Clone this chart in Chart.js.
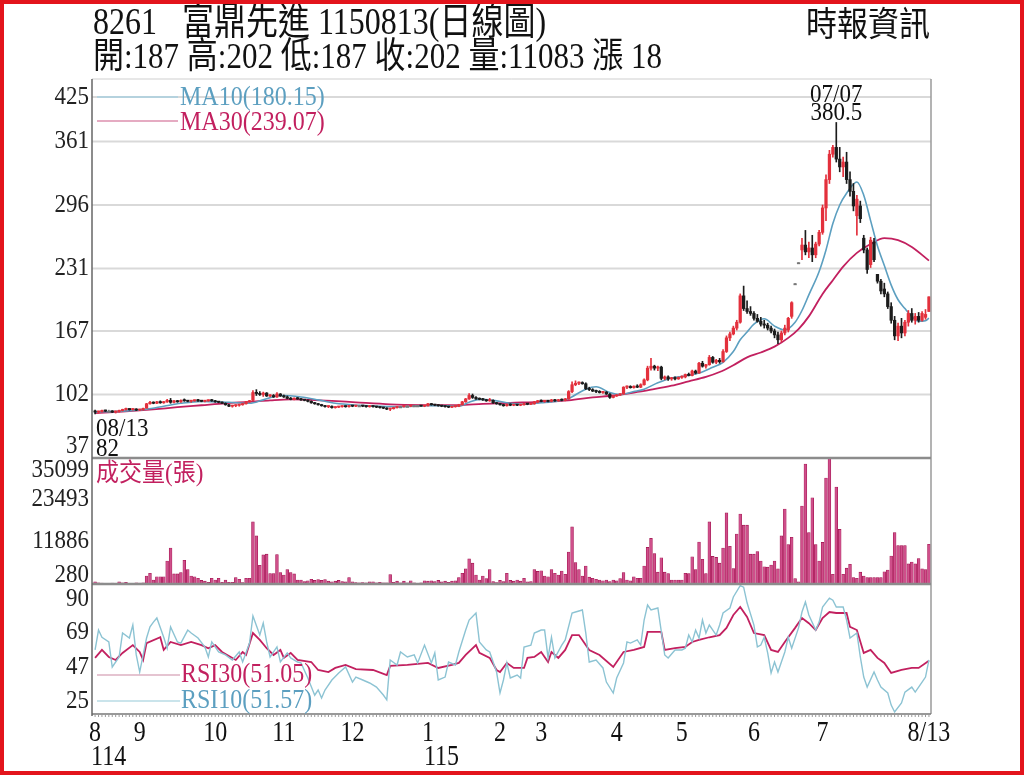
<!DOCTYPE html>
<html>
<head>
<meta charset="utf-8">
<script src="https://cdn.jsdelivr.net/npm/chart.js@4.4.1/dist/chart.umd.min.js"></script>
<style>
  html, body { margin: 0; padding: 0; background: #fff; }
  #wrap { position: relative; width: 1024px; height: 775px; }
  #frame { position: absolute; left: 0; top: 0; width: 1024px; height: 775px; box-sizing: border-box;
           border: 4px solid #e3141c; pointer-events: none; }
</style>
</head>
<body>
<div id="wrap">
  <canvas id="kline" width="1024" height="775"></canvas>
  <div id="frame"></div>
</div>
<script>
// daily candles per month: [open, high, low, close]
const ohlcAug25 = [[85,86,82,84],[84,85,83,84.5],[84.5,86,84,85.5],[85.5,86,84.5,85],[85,86,84,85],[85,85.5,83.5,84],
  [84,85,83,84.5],[84.5,86,84,85.5],[85.5,87,85,86.5],[86.5,88,86,87],[87,87.5,86,86.5],[86.5,87.5,86,87],[87,87.5,85.5,86]];
const ohlcSep25 = [[86,87,85.5,86.5],[86.5,88,86,87.5],[88,93,88,92.5],[92.5,95,92,94],[94,94.5,92.5,93],[93,95,92.5,94.5],
  [94.5,95.5,93,93.5],[93.5,95,93,94.5],[94.5,97,94,96],[96,98,93,94],[94,96,93.5,95.5],[95.5,96,94,94.5],[94.5,96.5,94,96],
  [96,97.5,95,95.5],[95.5,96,94.5,95],[95,96,94,95.5],[95.5,96.5,95,96],[96,97,95,95.5],[95.5,96,94.5,95],[95,96,94.5,95.5],
  [95.5,96.5,95,96],[96,97,95,95.5]];
const ohlcOct25 = [[95.5,96,94,94.5],[94.5,95,93.5,94],[94,94.5,92.5,93],[93,93.5,91,91.5],[91.5,92,89.5,90],[90,91,89,90.5],
  [90.5,91.5,89.5,91],[91,92,90,91.5],[91.5,93,91,92.5],[92.5,95,92,94.5],[94.5,96,94,95.5],[96,106,95.5,104],[104,107,101,103],
  [103,105,101,102],[102,104.5,100,103.5],[103.5,104,100,100.5],[100.5,102,99.5,101],[101,102,99,99.5],[99.5,104,99,102.5],
  [102.5,103,100,100.5]];
const ohlcNov25 = [[100.5,101.5,99,99.5],[99.5,100.5,97.5,98],[98,99,96.5,97],[97,98.5,96.5,98],[98,99,97,97.5],[97.5,98,96,96.5],
  [96.5,97,95.5,96],[96,96.5,94.5,95],[95,95.5,93,93.5],[93.5,94,92,92.5],[92.5,93,91,91.5],[91.5,92,90,90.5],[90.5,91,89,89.5],
  [89.5,90.5,88.5,90],[90,90.5,88,88.5],[88.5,89.5,88,89],[89,90,88.5,89.5],[89.5,90.5,89,90],[90,90.5,89,89.5],[89.5,91,89,90.5]];
const ohlcDec25 = [[90.5,91,89.5,90],[90,91,89.5,90.5],[90.5,91,90,90.5],[90.5,91,89.5,90],[90,90.5,89,89.5],[89.5,90.5,89,90],
  [90,90.5,89,89.5],[89.5,90,88.5,89],[89,89.5,88,88.5],[88.5,89,87.5,88],[88,88.5,86.5,87],[87,88,85.5,87.5],[87.5,89,87,88.5],
  [88.5,90,88,89.5],[89.5,90,89,89.5],[89.5,90.5,89,90],[90,90.5,89.5,90],[90,91,89.5,90.5],[90.5,91,90,90.5],[90.5,91,90,90.5],
  [90.5,91,90,90],[90,91,89.5,90.5]];
const ohlcJan26 = [[90.5,93,90,92.5],[92.5,93,91,91.5],[91.5,92,90.5,91],[91,91.5,90,90.5],[90.5,91,89.5,90],[90,90.5,89,89.5],
  [89.5,90,88.5,89],[89,90,88.5,89.5],[89.5,90.5,89,90],[90,92,89.5,91.5],[91.5,95,91,94.5],[94.5,98,94,97.5],[97.5,103,97,101],
  [101,102.5,98,99],[99,100,97,97.5],[97.5,98.5,96.5,97],[97,98,96,96.5],[96.5,97,95,95.5],[95.5,98,95,96],[96,96.5,93,93.5],
  [93.5,94,92,92.5]];
const ohlcFeb26 = [[92.5,93,91,91.5],[91.5,92,90,90.5],[90.5,92.5,90,92],[92,92.5,90.5,91],[91,92,90.5,91.5],[91.5,92,90.5,91],
  [91,92,90.5,91.5],[91.5,93,91,92.5],[92.5,93,91.5,92],[92,93,91.5,92.5],[92.5,95,92,94.5],[94.5,96,93.5,95.5]];
const ohlcMar26 = [[95.5,96.5,94.5,95],[95,96,94,95.5],[95.5,96,94.5,95],[95,97,94.5,96.5],[96.5,97,95,95.5],[95.5,97,95,96.5],
  [96.5,97.5,95.5,96],[96,98,95.5,97.5],[97.5,106,97,105],[105,115,104,112],[112,116,111,113.5],[113.5,115,112,114],
  [114,115,112.5,113],[113,114,107,108],[108,109.5,106,107],[107,108,105,105.5],[105.5,106.5,104,105],[105,106,103.5,104],
  [104,105,103,104.5],[104.5,105,102,102.5],[102.5,103,98,99],[99,101,98.5,100.5]];
const ohlcApr26 = [[100.5,102,100,101.5],[101.5,103,101,102.5],[102.5,110,102,109.5],[109.5,111,108,110],[110,111,108.5,109],
  [109,111,108.5,110.5],[110.5,112,109,109.5],[109.5,113,109,112],[112,118,111.5,117],[117,131,116,129],[129,139,127,131],
  [131,132,127,129],[129,131,126.5,130],[130,131,117,118.5],[118.5,121,117,120],[120,121,116.5,118],[118,119.5,116.5,119],
  [119,120,117,118],[118,120,117.5,119.5]];
const ohlcMay26 = [[119.5,121,118.5,120],[120,123,119,122.5],[122.5,124,121,121.5],[121.5,127,121,126],[126,127,123,124],
  [124,135,123.5,134],[134,136,130,131],[131,133,129,132.5],[132.5,142,132,140],[140,141,134,135],[135,138,133.5,137],
  [137,139,134,135.5],[135.5,148,135,146],[146,162,145,160],[160,166,157,164],[164,172,163,170],[170,178,168,176],
  [176,205,175,203],[203,213,188,190],[190,198,185,187],[187,192,183,185]];
const ohlcJun26 = [[185,187,178,180],[180,184,176,177],[177,181,172,174],[174,178,170,173],[173,175,168,170],[170,172,165,167],
  [167,169,160,163],[163,166,154,158],[158,167,156,165],[165,173,163,170],[168,181,166,180],[182,197,180,196],
  [215.5,215.5,215.5,215.5],[237,237,237,237],[250,262,240,255],[255,270,245,248],[248,258,242,252],[252,265,238,245],
  [245,258,242,256],[256,270,254,268]];
const ohlcJul26 = [[268,296,266,293],[293,327,280,322],[322,352,318,348],[348,357,345,355],[355,380.5,340,343],[343,355,330,335],
  [335,345,325,340],[340,350,318,322],[322,330,305,310],[310,318,290,295],[285,306,265,302],[295,300,278,282],[262,265,247,250],
  [250,252,226,230],[235,263,232,260],[258,262,238,240],[225,225,216,218],[218,220,205,208],[210,216,202,205],[205,207,190,192],
  [192,196,175,178],[178,182,158,162],[162,175,157,172]];
const ohlcAug26 = [[172,180,160,165],[165,178,162,176],[176,188,172,185],[185,190,176,178],[178,185,174,182],[182,186,176,178],
  [178,187,177,185],[181,189,179,184],[187,202,187,202]];

// daily volume (張) per month
const volAug25 = [600,300,250,200,200,250,200,600,300,500,200,200,300];
const volSep25 = [250,300,2200,3000,1100,2000,2000,2000,6400,10000,2800,2800,3200,6600,4000,2200,2000,1600,1000,800,500,1600];
const volOct25 = [1100,1600,500,1100,500,500,1800,1300,400,1600,1600,17300,13400,5200,8100,8300,2900,2900,8200,3200];
const volNov25 = [2500,4000,3200,2800,1100,1100,700,900,1300,1000,1200,1000,1200,800,600,800,1000,700,600,1800];
const volDec25 = [600,400,300,400,300,600,600,300,500,300,300,2600,500,800,300,800,300,900,300,200,300,900];
const volJan26 = [800,900,700,1000,600,800,500,800,900,1800,3000,4200,7000,5800,2500,1100,2200,1500,4000,700,400];
const volFeb26 = [1000,700,3000,1000,800,1100,800,1600,600,700,4000,3500];
const volMar26 = [3700,2200,2000,4000,3000,2500,3600,2700,8900,15900,6000,4000,2200,5000,1900,1600,1300,1100,900,1100,700,1100];
const volApr26 = [900,1500,3200,1100,900,2000,1600,1600,5000,10200,12700,8500,3300,7300,3300,2900,1100,1100,1100];
const volMay26 = [1100,3000,2900,7600,4000,11700,6900,2900,17300,7700,7400,5800,10000,19800,10500,4300,13900,19500,16400,16400,8300];
const volJun26 = [8300,9000,6400,4800,4700,5300,6400,4200,13400,20900,11000,13000,1500,600,21700,33400,14300,24000,11000,6400];
const volJul26 = [11600,29500,35099,2700,27000,15200,2700,4400,5500,1800,1600,3300,2200,1800,1800,1800,1800,1800,3400,3900,
  7800,14300,10700];
const volAug26 = [10700,10700,5600,6100,5600,7100,4200,4000,11083];

// moving averages and RSI, read as [day index, value]
const ma10Pts = [[0,84],[8,85],[15,87],[20,90],[25,93],[31,95],[39,94],[45,93],[49,96.5],[54,101],[60,99.5],[65,96.5],
  [70,93],[77,91],[83,90],[89,89.5],[97,90.5],[103,90.5],[106,90],[109,94],[112,97],[116,96],[121,93],[125,92],[130,93.5],
  [135,95.5],[138,98],[143,107.5],[146,110],[150,104],[153,102],[157,105],[160,107.5],[164,114],[168,119],[172,121],[176,124],
  [180,130],[183,135],[186,146],[188,158],[190,166],[192,174],[195,179.5],[198,172],[201,168],[204,176],[206,188],[208,204],
  [211,228],[213,250],[215,277],[217,296],[219,308],[222,319.5],[224,306],[226,280],[228,254],[230,234],[232,214],[234,199],
  [236,190],[238,182],[240,177],[242,177.5],[243,180.15]];
const ma30Pts = [[0,83],[8,84.5],[16,86.5],[24,89],[31,91],[38,93],[45,94.5],[51,96],[57,97],[63,96.5],[69,95.5],[76,94],
  [86,92],[96,91.2],[106,91],[113,92.5],[121,93.5],[130,94.5],[138,96],[145,99],[151,101],[157,104],[162,107],[168,111],
  [173,115.5],[178,120],[182,125],[186,132],[190,140],[194,145],[198,151],[202,160],[205,169],[208,182],[212,205],[215,219],
  [218,233],[222,247],[226,256],[230,262],[234,260],[238,253],[243,239.07]];
const rsi10Pts = [[0,57.9],[1,70.6],[2,66],[4,63],[5,47],[7,53.4],[8,68.7],[10,65.5],[11,73.8],[12,54.7],[13,43.8],[15,65.5],
  [16,72.6],[17,75.7],[18,78.3],[20,66],[21,59],[22,72.6],[24,63],[25,62.3],[27,70.6],[28,68.7],[30,65.5],[32,59.8],[33,53.4],
  [34,63],[36,56.6],[38,54.7],[40,51.5],[42,56.6],[43,50.2],[45,62.3],[46,79.6],[48,67.4],[49,75],[50,63],[51,53.4],[53,59.8],
  [54,50.2],[56,56],[57,52.8],[59,50.2],[60,49.6],[62,40],[64,29],[65,32.3],[66,27.2],[67,32.3],[69,38.7],[71,43.2],[73,47],
  [75,37.4],[76,40.6],[78,38.7],[80,36.8],[82,34.2],[84,29.1],[85,26],[86,51.5],[88,48.3],[89,56.6],[91,53.4],[93,54.7],
  [94,49.6],[96,61],[98,49.6],[99,56],[100,38.7],[102,40.6],[103,50.2],[105,48.3],[106,56.6],[108,70.6],[109,77],[111,81.5],
  [112,63],[114,57.9],[115,56.6],[117,43.8],[118,30.4],[119,38.7],[120,49.6],[121,40],[123,41.9],[124,40],[125,59.8],[127,61],
  [128,68.7],[130,70.6],[131,70.6],[132,52.8],[133,66],[134,52.8],[136,61],[137,64.3],[139,81.5],[140,82.1],[142,83.4],
  [143,68.7],[144,50.2],[146,51.5],[148,46.4],[149,37.4],[151,30.4],[152,40],[154,49.6],[155,63],[156,62.3],[158,64.3],[159,61],
  [160,77],[161,86.6],[162,83.4],[164,84.7],[166,54.7],[167,52.8],[169,57.9],[171,57.9],[172,59],[173,67.4],[174,63],[175,70.6],
  [176,65.5],[177,77],[178,68.7],[179,73.8],[181,67.4],[182,73.8],[183,81.5],[185,84.7],[186,91.7],[188,99],[189,98],[190,88],
  [192,73.8],[193,59.8],[194,61],[195,66],[196,56],[197,43.2],[198,50.2],[199,43.8],[201,56.6],[202,66],[203,59],[205,72],
  [206,82.1],[207,88.5],[208,80.2],[210,70.6],[211,75.7],[212,85.3],[214,91],[215,89.7],[216,85.3],[218,85.3],[219,77],
  [220,65.5],[222,68.7],[223,53.4],[224,40.6],[225,34.2],[227,43.8],[228,38.7],[229,34.2],[231,30.4],[232,22.7],[233,18.3],
  [235,24],[236,31],[238,34.2],[239,31],[241,37.4],[242,40.6],[243,51.57]];
const rsi30Pts = [[0,52.8],[2,57.9],[4,53.4],[6,51.5],[8,56],[11,61],[13,56.6],[14,51.5],[15,62.3],[19,66],[20,57.9],[22,63],
  [25,61],[28,63],[31,61],[33,59],[35,61],[37,56.6],[41,51.5],[43,56.6],[44,54.7],[46,68.7],[48,64.3],[50,59],[52,54.7],
  [54,57.9],[55,52.8],[57,56],[59,51.5],[63,50.2],[65,45.1],[68,43.8],[70,46.4],[73,48.3],[76,45.7],[81,45.1],[85,41.9],
  [86,47.7],[91,48.3],[97,49.6],[100,46.4],[104,48.3],[106,49.6],[108,54.7],[111,61],[112,56],[115,52.8],[117,45.1],[118,43.8],
  [120,49.6],[122,46.4],[125,46.4],[126,52.8],[128,53.4],[130,56.6],[132,50.2],[133,56.6],[135,52.8],[137,57.9],[139,67.4],
  [141,67.4],[144,57.9],[147,54.7],[151,47],[154,56.6],[157,57.9],[160,59.8],[161,69.4],[165,69.4],[166,57.9],[169,59],
  [172,59.8],[174,63],[176,64.3],[179,66],[182,67.4],[184,72],[186,80.2],[188,85.3],[190,79],[192,68.7],[195,67.4],[197,57.9],
  [199,56.6],[201,63],[204,72],[206,78.3],[208,75],[210,70.6],[212,78.3],[214,82.1],[216,81.5],[219,81.5],[220,72.6],[222,70.6],
  [224,56],[226,57.9],[228,52.8],[230,49.6],[232,43.2],[235,45.1],[238,46.4],[240,46.4],[243,51.05]];

// axis labels
const priceTicks = [37, 102, 167, 231, 296, 361, 425];
const volTicks = [280, 11886, 23493, 35099];
const rsiTicks = [25, 47, 69, 90];
const monthTicks = [0, 13, 35, 55, 75, 97, 118, 130, 152, 171, 192, 212, 243];
const monthNames = ['8', '9', '10', '11', '12', '1', '2', '3', '4', '5', '6', '7', '8/13'];
const yearTicks = [0, 97];
const yearNames = ['114', '115'];

const stockCode = '8261';
const stockName = '富鼎先進';
const chartDate = '1150813';
const peakNote = { idx: 216, date: '07/07' };
const lowNote = { idx: 0, date: '08/13' };

const ohlc = [].concat(ohlcAug25, ohlcSep25, ohlcOct25, ohlcNov25, ohlcDec25, ohlcJan26, ohlcFeb26,
  ohlcMar26, ohlcApr26, ohlcMay26, ohlcJun26, ohlcJul26, ohlcAug26);
const volume = [].concat(volAug25, volSep25, volOct25, volNov25, volDec25, volJan26, volFeb26,
  volMar26, volApr26, volMay26, volJun26, volJul26, volAug26);

// pixel frame of the three panels
const AREA = { left: 92, right: 931, top: 79, priceBottom: 458, volBottom: 584, bottom: 714 };
const FONT = "'Liberation Serif','Noto Sans CJK TC',serif";
const RED = '#e3303c', DARK = '#1c1c1c', TEAL = '#5c9fc0', CRIMSON = '#c2205f';

// stretch a panel range so it fills the whole chart area (three panels share one canvas)
function fitRange(lo, hi, yLo, yHi) {
  const k = (hi - lo) / (yLo - yHi);
  return { min: lo - (AREA.bottom - yLo) * k, max: hi + (yHi - AREA.top) * k };
}
const priceRange = fitRange(37, 425, AREA.priceBottom, AREA.top);
const volRange = fitRange(0, 35099, AREA.volBottom, AREA.priceBottom);
const rsiRange = fitRange(17, 100, AREA.bottom, AREA.volBottom);

function candleColor(r) {
  if (r[3] > r[0]) return RED;
  if (r[3] < r[0]) return DARK;
  return '#777';
}

function txt(ctx, s, x, y, size, color, align, stretch) {
  ctx.save();
  ctx.font = size + 'px ' + FONT;
  ctx.fillStyle = color;
  ctx.textAlign = align || 'left';
  ctx.textBaseline = 'middle';
  ctx.translate(x, y);
  ctx.scale(1, stretch || 1.12);
  ctx.fillText(s, 0, 0);
  ctx.restore();
}

function line(ctx, x1, y1, x2, y2, color, w) {
  ctx.save();
  ctx.strokeStyle = color;
  ctx.lineWidth = w;
  ctx.beginPath();
  ctx.moveTo(x1, y1);
  ctx.lineTo(x2, y2);
  ctx.stroke();
  ctx.restore();
}

// labels sit inside their panel, like the original software does
function clampY(y, top, bottom, padTop, padBot) {
  return Math.min(Math.max(y, top + padTop), bottom - padBot);
}

const panelDecor = {
  id: 'panelDecor',
  beforeDatasetsDraw(chart) {
    const ctx = chart.ctx;
    const yP = chart.scales.yP;
    priceTicks.slice(1).forEach(v => {
      const y = clampY(yP.getPixelForValue(v), AREA.top, AREA.priceBottom, 18, 12);
      line(ctx, AREA.left, y, AREA.right, y, '#d9d9d9', 2);
    });
  },
  afterDraw(chart) {
    const ctx = chart.ctx;
    const x = chart.scales.x, yP = chart.scales.yP, yV = chart.scales.yV, yR = chart.scales.yR;

    // frame and panel separators
    line(ctx, AREA.left, AREA.top, AREA.right, AREA.top, '#cfcfcf', 1);
    line(ctx, AREA.right, AREA.top, AREA.right, AREA.bottom, '#9a9a9a', 1.5);
    line(ctx, AREA.left, AREA.priceBottom, AREA.right, AREA.priceBottom, '#8c8c8c', 2.5);
    line(ctx, AREA.left, AREA.volBottom, AREA.right, AREA.volBottom, '#8c8c8c', 2.5);
    line(ctx, AREA.left, AREA.bottom, AREA.right, AREA.bottom, '#777', 1.5);
    line(ctx, AREA.left, AREA.top, AREA.left, AREA.bottom + 2, '#666', 1.5);

    // daily ticks under the time axis
    for (let i = 0; i < ohlc.length; i++) {
      const px = x.getPixelForValue(i);
      line(ctx, px, AREA.bottom, px, AREA.bottom + 3, '#999', 1);
    }

    // y labels
    priceTicks.forEach(v => {
      txt(ctx, String(v), 89, clampY(yP.getPixelForValue(v), AREA.top, AREA.priceBottom, 18, 12), 23, '#222', 'right');
    });
    volTicks.forEach(v => {
      txt(ctx, String(v), 89, clampY(yV.getPixelForValue(v), AREA.priceBottom, AREA.volBottom, 12, 9), 23, '#222', 'right');
    });
    rsiTicks.forEach(v => {
      txt(ctx, String(v), 89, clampY(yR.getPixelForValue(v), AREA.volBottom, AREA.bottom, 12, 9), 23, '#222', 'right');
    });

    // x labels
    monthTicks.forEach((i, k) => {
      txt(ctx, monthNames[k], x.getPixelForValue(i), 733, 24, '#111', 'center', 1.22);
    });
    yearTicks.forEach((i, k) => {
      txt(ctx, yearNames[k], x.getPixelForValue(i) - 4, 757, 24, '#111', 'left', 1.22);
    });

    // titles
    const last = ohlc[ohlc.length - 1];
    const prev = ohlc[ohlc.length - 2];
    txt(ctx, stockCode, 93, 24, 32, '#111', 'left', 1.18);
    txt(ctx, stockName + ' ' + chartDate + '(日線圖)', 182, 24, 32, '#111', 'left', 1.18);
    txt(ctx, '時報資訊', 930, 27, 31, '#111', 'right', 1.1);
    const info = '開:' + last[0] + ' 高:' + last[1] + ' 低:' + last[2] + ' 收:' + last[3] +
      ' 量:' + volume[volume.length - 1] + ' 漲 ' + (last[3] - prev[3]);
    txt(ctx, info, 93, 58, 31, '#111', 'left', 1.18);

    // legends
    const ma10Last = ma10Pts[ma10Pts.length - 1][1], ma30Last = ma30Pts[ma30Pts.length - 1][1];
    line(ctx, 97, 97, 178, 97, '#a9cfdf', 1.5);
    txt(ctx, 'MA10(' + ma10Last.toFixed(2) + ')', 180, 98, 24, TEAL, 'left');
    line(ctx, 97, 121, 178, 121, '#dc8fae', 1.5);
    txt(ctx, 'MA30(' + ma30Last.toFixed(2) + ')', 180, 123, 24, CRIMSON, 'left');
    txt(ctx, '成交量(張)', 96, 474, 23, CRIMSON, 'left', 1.1);
    const r10Last = rsi10Pts[rsi10Pts.length - 1][1], r30Last = rsi30Pts[rsi30Pts.length - 1][1];
    line(ctx, 97, 675, 180, 675, '#dcb0c2', 1.5);
    txt(ctx, 'RSI30(' + r30Last.toFixed(2) + ')', 181, 675, 24, CRIMSON, 'left');
    line(ctx, 97, 701, 180, 701, '#b9dbe5', 1.5);
    txt(ctx, 'RSI10(' + r10Last.toFixed(2) + ')', 181, 701, 24, TEAL, 'left');

    // high / low notes
    const pk = ohlc[peakNote.idx];
    const px = x.getPixelForValue(peakNote.idx);
    txt(ctx, peakNote.date, px, 96, 23, '#111', 'center', 1.05);
    txt(ctx, String(pk[1]), px, 114, 23, '#111', 'center', 1.05);
    const lo = ohlc[lowNote.idx];
    txt(ctx, lowNote.date, 96, 429, 23, '#111', 'left');
    txt(ctx, String(lo[2]), 96, 449, 23, '#111', 'left');
  }
};

function renderKLine() {
  const ctx = document.getElementById('kline').getContext('2d');
  const colors = ohlc.map(candleColor);

  new Chart(ctx, {
    data: {
      datasets: [
        {
          type: 'bar', order: 0, yAxisID: 'yP', grouped: false,
          data: ohlc.map((r, i) => ({ x: i, y: [r[0], r[3]] })),
          backgroundColor: colors, barThickness: 2.6, minBarLength: 1.2
        },
        {
          type: 'bar', order: 1, yAxisID: 'yP', grouped: false,
          data: ohlc.map((r, i) => ({ x: i, y: [r[2], r[1]] })),
          backgroundColor: colors, barThickness: 1
        },
        {
          type: 'line', order: 2, yAxisID: 'yP',
          data: ma10Pts.map(p => ({ x: p[0], y: p[1] })),
          borderColor: TEAL, borderWidth: 1.6, pointRadius: 0, cubicInterpolationMode: 'monotone'
        },
        {
          type: 'line', order: 3, yAxisID: 'yP',
          data: ma30Pts.map(p => ({ x: p[0], y: p[1] })),
          borderColor: CRIMSON, borderWidth: 1.8, pointRadius: 0, cubicInterpolationMode: 'monotone'
        },
        {
          type: 'bar', order: 4, yAxisID: 'yV', grouped: false,
          data: volume.map((v, i) => ({ x: i, y: v })),
          backgroundColor: '#cf4f8b', borderColor: '#9e0f4b', borderWidth: 0.6, barThickness: 2.8
        },
        {
          type: 'line', order: 5, yAxisID: 'yR',
          data: rsi10Pts.map(p => ({ x: p[0], y: p[1] })),
          borderColor: '#8cc3d3', borderWidth: 1.4, pointRadius: 0, tension: 0
        },
        {
          type: 'line', order: 6, yAxisID: 'yR',
          data: rsi30Pts.map(p => ({ x: p[0], y: p[1] })),
          borderColor: CRIMSON, borderWidth: 1.8, pointRadius: 0, tension: 0
        }
      ]
    },
    options: {
      responsive: false,
      animation: false,
      layout: { padding: { left: AREA.left, right: 1024 - AREA.right, top: AREA.top, bottom: 775 - AREA.bottom } },
      plugins: { legend: { display: false }, tooltip: { enabled: false } },
      scales: {
        x: { type: 'linear', min: -0.9, max: 243.6, offset: false, display: false },
        yP: { type: 'linear', min: priceRange.min, max: priceRange.max, display: false },
        yV: { type: 'linear', min: volRange.min, max: volRange.max, display: false },
        yR: { type: 'linear', min: rsiRange.min, max: rsiRange.max, display: false }
      }
    },
    plugins: [panelDecor]
  });
}

document.addEventListener('DOMContentLoaded', renderKLine);
</script>
</body>
</html>
